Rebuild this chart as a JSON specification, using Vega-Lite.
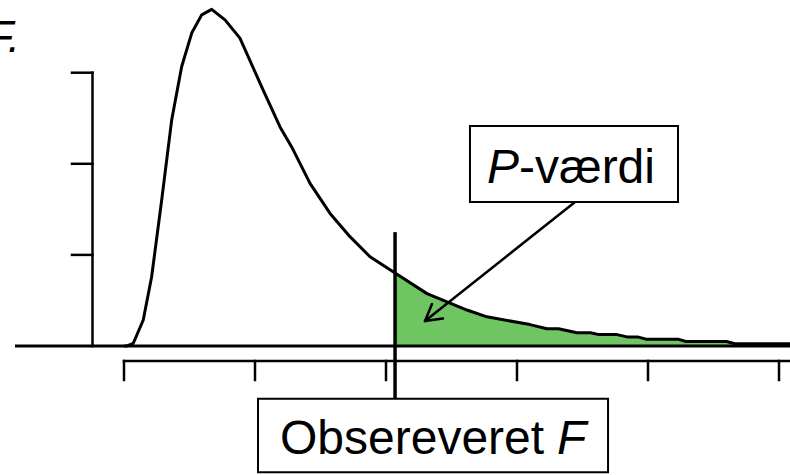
{
  "$schema": "https://vega.github.io/schema/vega-lite/v6.json",
  "width": 790,
  "height": 475,
  "autosize": {"type": "none"},
  "padding": 0,
  "background": "white",
  "config": {"view": {"stroke": null}},
  "datasets": {
    "curve": [
      {"x": 0.0, "y": 0.0},
      {"x": 0.023, "y": 0.0},
      {"x": 0.071, "y": 0.006},
      {"x": 0.147, "y": 0.057},
      {"x": 0.211, "y": 0.152},
      {"x": 0.288, "y": 0.321},
      {"x": 0.364, "y": 0.496},
      {"x": 0.44, "y": 0.613},
      {"x": 0.517, "y": 0.687},
      {"x": 0.593, "y": 0.727},
      {"x": 0.669, "y": 0.739},
      {"x": 0.771, "y": 0.716},
      {"x": 0.885, "y": 0.676},
      {"x": 1.051, "y": 0.569},
      {"x": 1.191, "y": 0.481},
      {"x": 1.28, "y": 0.437},
      {"x": 1.42, "y": 0.357},
      {"x": 1.573, "y": 0.291},
      {"x": 1.725, "y": 0.24},
      {"x": 1.878, "y": 0.196},
      {"x": 2.069, "y": 0.16},
      {"x": 2.313, "y": 0.115},
      {"x": 2.618, "y": 0.079},
      {"x": 2.771, "y": 0.064},
      {"x": 3.099, "y": 0.047},
      {"x": 3.229, "y": 0.038},
      {"x": 3.317, "y": 0.038},
      {"x": 3.458, "y": 0.029},
      {"x": 3.561, "y": 0.029},
      {"x": 3.626, "y": 0.025},
      {"x": 3.763, "y": 0.025},
      {"x": 3.84, "y": 0.02},
      {"x": 3.92, "y": 0.02},
      {"x": 3.985, "y": 0.015},
      {"x": 4.229, "y": 0.015},
      {"x": 4.29, "y": 0.01},
      {"x": 4.599, "y": 0.01},
      {"x": 4.664, "y": 0.005},
      {"x": 5.084, "y": 0.005}
    ],
    "baseline": [
      {"x": -0.832, "y": 0, "x2": 5.084, "y2": 0}
    ],
    "axisRules": [
      {"x": -0.2405, "y": 0, "x2": -0.2405, "y2": 0.6},
      {"x": -0.397, "y": 0.2, "x2": -0.2405, "y2": 0.2},
      {"x": -0.397, "y": 0.4, "x2": -0.2405, "y2": 0.4},
      {"x": -0.397, "y": 0.6, "x2": -0.2405, "y2": 0.6},
      {"x": 0, "y": -0.0329, "x2": 5.084, "y2": -0.0329},
      {"x": 0, "y": -0.0329, "x2": 0, "y2": -0.0746},
      {"x": 1, "y": -0.0329, "x2": 1, "y2": -0.0746},
      {"x": 2, "y": -0.0329, "x2": 2, "y2": -0.0746},
      {"x": 3, "y": -0.0329, "x2": 3, "y2": -0.0746},
      {"x": 4, "y": -0.0329, "x2": 4, "y2": -0.0746},
      {"x": 5, "y": -0.0329, "x2": 5, "y2": -0.0746}
    ],
    "observed": [
      {"x": 2.069, "y": 0.25, "x2": 2.069, "y2": -0.116}
    ],
    "arrow": [
      {"x": 3.443, "y": 0.316, "x2": 2.298, "y2": 0.0549},
      {"x": 2.435, "y": 0.0604, "x2": 2.298, "y2": 0.0549},
      {"x": 2.351, "y": 0.0922, "x2": 2.298, "y2": 0.0549}
    ],
    "boxes": [
      {"x": 1.023, "x2": 3.695, "y": -0.116, "y2": -0.277},
      {"x": 2.641, "x2": 4.229, "y": 0.483, "y2": 0.316}
    ],
    "labels": [
      {"x": 1.191, "y": -0.237, "text": "Obsereveret"},
      {"x": 3.015, "y": 0.358, "text": "-værdi"}
    ],
    "italicLabels": [
      {"x": 3.305, "y": -0.237, "text": "F"},
      {"x": 2.771, "y": 0.358, "text": "P"}
    ],
    "title": [
      {"x": -0.794, "y": 0.645, "text": "F."}
    ]
  },
  "layer": [
    {
      "data": {"name": "curve"},
      "transform": [{"filter": "datum.x >= 2.069"}],
      "mark": {"type": "area", "color": "#70C563", "interpolate": "linear"},
      "encoding": {
        "x": {"field": "x", "type": "quantitative", "scale": {"domain": [-0.94656, 5.08397], "nice": false, "zero": false}, "axis": null},
        "y": {"field": "y", "type": "quantitative", "scale": {"domain": [-0.28321, 0.7596], "nice": false, "zero": false}, "axis": null},
        "y2": {"datum": 0}
      }
    },
    {
      "data": {"name": "curve"},
      "mark": {"type": "line", "color": "black", "strokeWidth": 3, "interpolate": "linear", "strokeJoin": "round"},
      "encoding": {
        "x": {"field": "x", "type": "quantitative"},
        "y": {"field": "y", "type": "quantitative"},
        "order": {"field": "x"}
      }
    },
    {
      "data": {"name": "baseline"},
      "mark": {"type": "rule", "color": "black", "strokeWidth": 3},
      "encoding": {
        "x": {"field": "x", "type": "quantitative"},
        "y": {"field": "y", "type": "quantitative"},
        "x2": {"field": "x2"},
        "y2": {"field": "y2"}
      }
    },
    {
      "data": {"name": "axisRules"},
      "mark": {"type": "rule", "color": "black", "strokeWidth": 2.5, "strokeCap": "square"},
      "encoding": {
        "x": {"field": "x", "type": "quantitative"},
        "y": {"field": "y", "type": "quantitative"},
        "x2": {"field": "x2"},
        "y2": {"field": "y2"}
      }
    },
    {
      "data": {"name": "observed"},
      "mark": {"type": "rule", "color": "black", "strokeWidth": 3.5},
      "encoding": {
        "x": {"field": "x", "type": "quantitative"},
        "y": {"field": "y", "type": "quantitative"},
        "x2": {"field": "x2"},
        "y2": {"field": "y2"}
      }
    },
    {
      "data": {"name": "arrow"},
      "mark": {"type": "rule", "color": "black", "strokeWidth": 2.5, "strokeCap": "round"},
      "encoding": {
        "x": {"field": "x", "type": "quantitative"},
        "y": {"field": "y", "type": "quantitative"},
        "x2": {"field": "x2"},
        "y2": {"field": "y2"}
      }
    },
    {
      "data": {"name": "boxes"},
      "mark": {"type": "rect", "fill": "white", "stroke": "black", "strokeWidth": 2},
      "encoding": {
        "x": {"field": "x", "type": "quantitative"},
        "y": {"field": "y", "type": "quantitative"},
        "x2": {"field": "x2"},
        "y2": {"field": "y2"}
      }
    },
    {
      "data": {"name": "labels"},
      "mark": {"type": "text", "font": "Liberation Sans", "fontSize": 48, "align": "left", "baseline": "alphabetic", "color": "black"},
      "encoding": {
        "x": {"field": "x", "type": "quantitative"},
        "y": {"field": "y", "type": "quantitative"},
        "text": {"field": "text"}
      }
    },
    {
      "data": {"name": "italicLabels"},
      "mark": {"type": "text", "font": "Liberation Sans", "fontSize": 48, "fontStyle": "italic", "align": "left", "baseline": "alphabetic", "color": "black"},
      "encoding": {
        "x": {"field": "x", "type": "quantitative"},
        "y": {"field": "y", "type": "quantitative"},
        "text": {"field": "text"}
      }
    },
    {
      "data": {"name": "title"},
      "mark": {"type": "text", "font": "Liberation Sans", "fontSize": 44, "fontStyle": "italic", "align": "right", "baseline": "alphabetic", "color": "black"},
      "encoding": {
        "x": {"field": "x", "type": "quantitative"},
        "y": {"field": "y", "type": "quantitative"},
        "text": {"field": "text"}
      }
    }
  ]
}
